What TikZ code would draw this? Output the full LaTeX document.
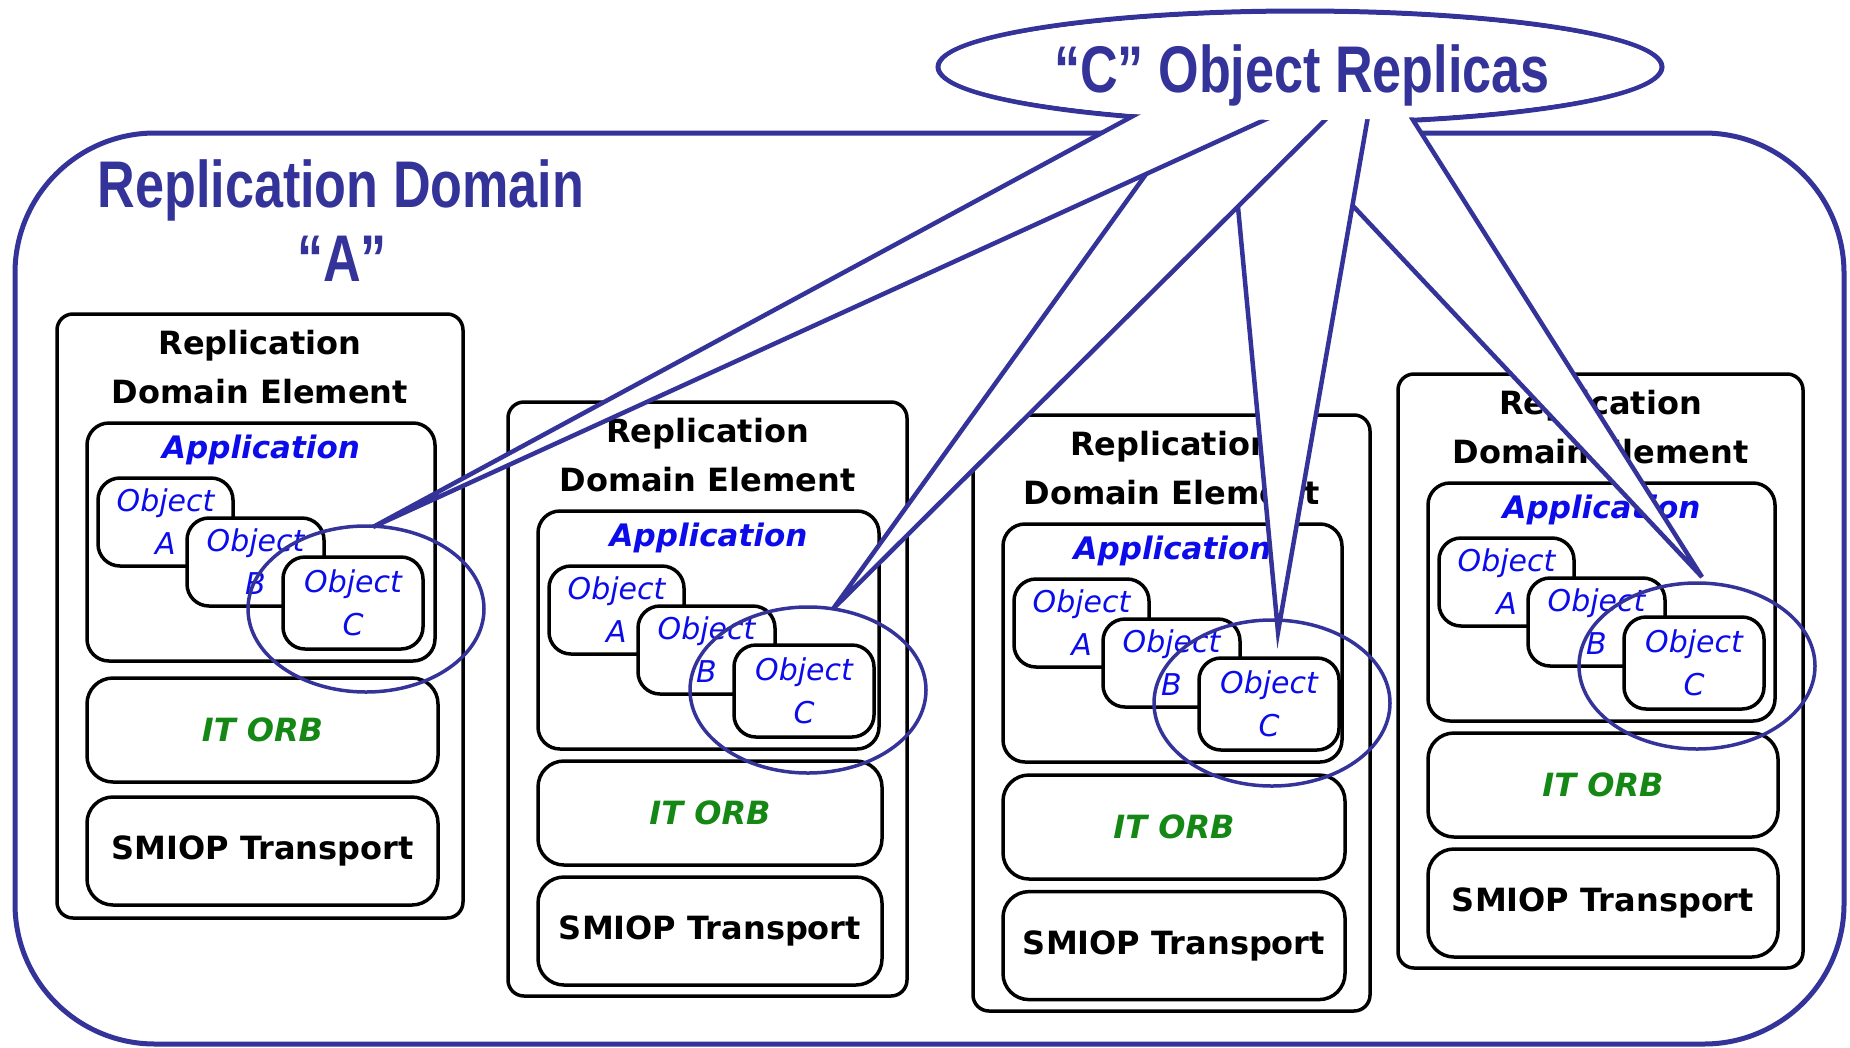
\documentclass[tikz,border=0pt]{standalone}
\usepackage{fontspec}
\usetikzlibrary{shapes.geometric,calc}
\setmainfont{DejaVu Sans}
\newfontfamily\narrowfont[FakeStretch=0.79]{Liberation Sans Bold}
\newfontfamily\boxfont[BoldFont={DejaVu Sans Bold},ItalicFont={DejaVu Sans Oblique},BoldItalicFont={DejaVu Sans Bold Oblique}]{DejaVu Sans}

\definecolor{domainblue}{RGB}{51,51,153}
\definecolor{objblue}{RGB}{12,12,235}
\definecolor{orbgreen}{RGB}{20,135,20}

\tikzset{
  every node/.style={inner sep=0pt, outer sep=0pt},
  domainbox/.style={draw=domainblue, line width=5pt, rounded corners=140pt, rectangle, anchor=north west},
  domaintext/.style={font=\narrowfont\fontsize{66}{70}\selectfont, text=domainblue, anchor=base},
  elembox/.style={draw=black, line width=3.5pt, fill=white, rounded corners=16pt, rectangle, anchor=north west},
  appbox/.style={elembox, rounded corners=22pt},
  objbox/.style={elembox, rounded corners=22pt, align=center, text=objblue,
    font=\boxfont\itshape\fontsize{30}{43}\selectfont},
  layerbox/.style={elembox, rounded corners=26pt},
  eltitle/.style={font=\boxfont\bfseries\fontsize{32}{38}\selectfont, anchor=base},
  apptext/.style={font=\boxfont\bfseries\itshape\fontsize{31}{36}\selectfont, text=objblue, anchor=base},
  orbtext/.style={font=\boxfont\bfseries\itshape\fontsize{32}{38}\selectfont, text=orbgreen},
  smioptext/.style={font=\boxfont\bfseries\fontsize{32}{38}\selectfont},
  replring/.style={draw=domainblue, line width=3.5pt, ellipse, minimum width=236pt, minimum height=166pt},
  calloutline/.style={draw=domainblue, line width=4.5pt, line join=miter},
}

% One replication domain element: name, left, top, width, height
\newcommand\rdelem[5]{%
  \begin{scope}[shift={(#2,#3)}]
    \node[elembox, minimum width=#4pt, minimum height=#5pt] (#1) at (0,0) {};
    \node[eltitle] (#1-t1) at (#4/2,40) {Replication};
    \node[eltitle] (#1-t2) at (#4/2,89) {Domain Element};
    \node[appbox, minimum width=#4pt-58pt, minimum height=238pt] (#1-app) at (30,109) {};
    \node[apptext] (#1-apptxt) at (#4/2+1,144) {Application};
    \node[objbox, minimum width=135pt, minimum height=88pt] (#1-oa) at (41,164) {Object\\A};
    \node[objbox, minimum width=137pt, minimum height=88pt] (#1-ob) at (130,204) {Object\\B};
    \node[objbox, minimum width=140pt, minimum height=92pt] (#1-oc) at (226,243) {Object\\C};
    \node[layerbox, orbtext, minimum width=#4pt-55pt, minimum height=104pt] (#1-orb)
      at (30,{359+(#5-594)*0.5}) {IT ORB};
    \node[layerbox, smioptext, minimum width=#4pt-55pt, minimum height=108pt] (#1-smiop)
      at (30,{475+(#5-594)*0.8}) {SMIOP Transport};
  \end{scope}}

% One pointer of the callout: left attach, tip, right attach
\newcommand\calloutspoke[3]{%
  \fill[white] ($(#2)!1.12!(#1)$) -- (#2) -- ($(#2)!1.12!(#3)$) -- cycle;
  \draw[calloutline] ($(#2)!1.12!(#1)$) -- (#2) -- ($(#2)!1.12!(#3)$);
}

\begin{document}
\begin{tikzpicture}[x=1pt, y=-1pt]
  \fill[white] (0,0) rectangle (1850,1047);
  \useasboundingbox (0,0) rectangle (1850,1047);

  % replication domain
  \node[domainbox, minimum width=1829pt, minimum height=911pt] (domain) at (15,133) {};
  \node[domaintext] (domain-t1) at (341,207) {Replication Domain};
  \node[domaintext] (domain-t2) at (342,281) {“A”};

  % domain elements
  \rdelem{e1}{57}{314}{406}{604}
  \rdelem{e2}{508}{402}{399}{594}
  \rdelem{e3}{973}{415}{397}{596}
  \rdelem{e4}{1398}{374}{405}{594}

  % rings round the C replicas
  \node[replring] (e1-ring) at (366,609) {};
  \node[replring] (e2-ring) at (808,690) {};
  \node[replring] (e3-ring) at (1272,703) {};
  \node[replring] (e4-ring) at (1697,666) {};

  % callout
  \node[draw=domainblue, line width=5pt, fill=white, ellipse,
        minimum width=724pt, minimum height=112pt] (replicas) at (1300,67) {};
  \coordinate (t1) at ($(e1-ring.north)+(7,1)$);
  \coordinate (t2) at ($(e2-ring.north)+(25,2)$);
  \coordinate (t3) at ($(e3-ring.north)+(6,12)$);
  \coordinate (t4) at ($(e4-ring.north)+(5,-6)$);
  \coordinate (a1l) at ($(replicas.center)+(-167,49)$);
  \coordinate (a1r) at ($(replicas.center)+(-40,55)$);
  \coordinate (a2l) at ($(replicas.center)+(-115,53)$);
  \coordinate (a2r) at ($(replicas.center)+(22,56)$);
  \coordinate (a3l) at ($(replicas.center)+(-70,55)$);
  \coordinate (a3r) at ($(replicas.center)+(67,55)$);
  \coordinate (a4l) at ($(replicas.center)+(-25,56)$);
  \coordinate (a4r) at ($(replicas.center)+(113,53)$);
  \calloutspoke{a4l}{t4}{a4r}
  \calloutspoke{a3l}{t3}{a3r}
  \calloutspoke{a2l}{t2}{a2r}
  \calloutspoke{a1l}{t1}{a1r}
  \fill[white] (replicas.center) ellipse [x radius=359pt, y radius=53pt];
  \node[font=\narrowfont\fontsize{66}{70}\selectfont, text=domainblue, anchor=base]
    (replicas-label) at (1302,92) {“C” Object Replicas};
\end{tikzpicture}
\end{document}
